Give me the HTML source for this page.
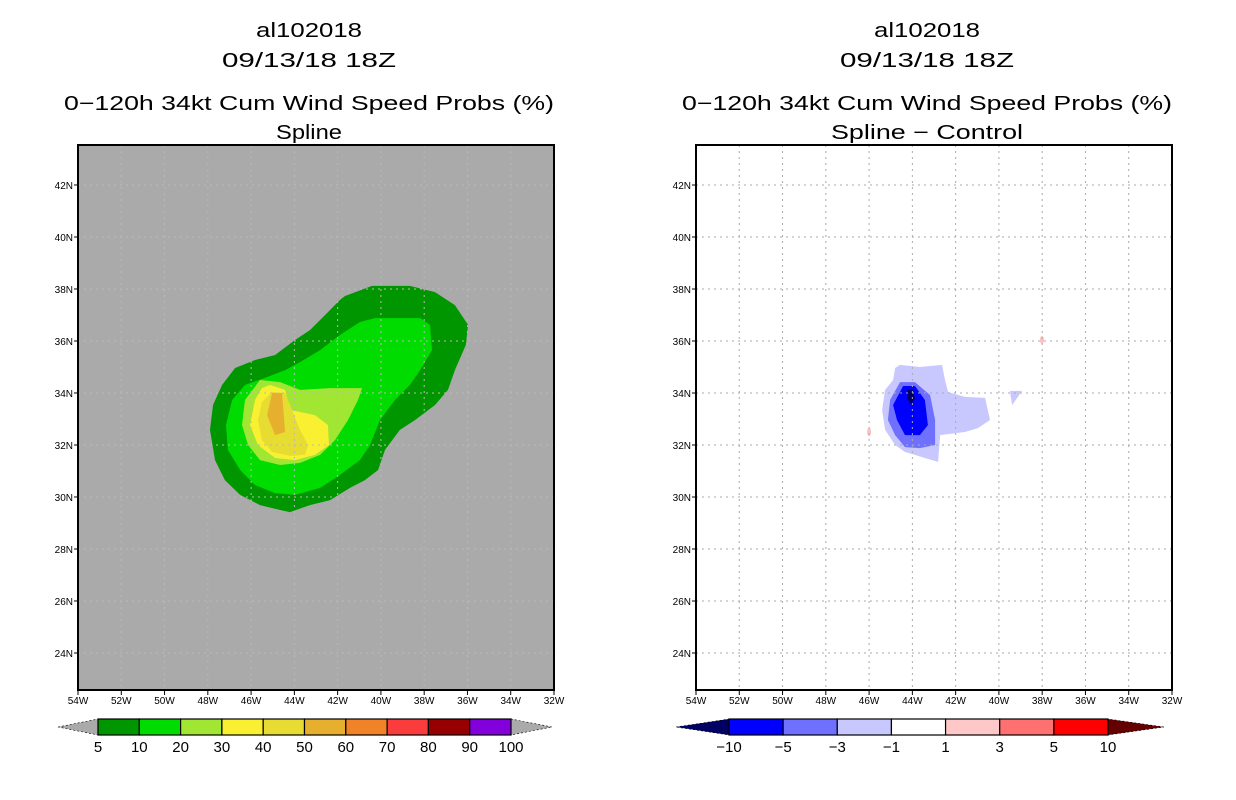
<!DOCTYPE html>
<html><head><meta charset="utf-8"><style>
body{margin:0;background:#fff;width:1236px;height:800px;overflow:hidden}
svg{display:block;font-family:"Liberation Sans",sans-serif}
</style></head><body>
<svg id="s" width="1236" height="800" xmlns="http://www.w3.org/2000/svg"></svg>
<script>
const NS="http://www.w3.org/2000/svg";
const lonTicks=[54,52,50,48,46,44,42,40,38,36,34,32];
const latTicks=[42,40,38,36,34,32,30,28,26,24];
const leftLevels=["5","10","20","30","40","50","60","70","80","90","100"];
const leftColors=["#009600","#00dc00","#a0e632","#faf032","#e6dc32","#e6af2d","#f08228","#fa3c3c","#960000","#8200dc"];
const rightLevels=["−10","−5","−3","−1","1","3","5","10"];
const rightColors=["#0000ff","#7070ff","#c8c8ff","#ffffff","#ffc8c8","#ff7070","#ff0000"];
// contours as [lonW, latN] pairs
const c5=[[41.66,37.73],[40.41,38.12],[38.66,38.12],[37.50,37.88],[36.58,37.38],[35.97,36.62],[36.07,35.85],[36.58,34.88],[36.90,34.12],[37.50,33.54],[38.42,32.96],[39.12,32.58],[39.81,31.81],[40.13,31.04],[40.74,30.65],[41.43,30.35],[42.35,29.88],[43.28,29.69],[44.20,29.42],[44.66,29.50],[45.59,29.69],[46.51,30.08],[47.21,30.65],[47.67,31.42],[47.90,32.58],[47.76,33.54],[47.34,34.31],[46.74,34.96],[45.82,35.27],[44.89,35.46],[43.97,36.04],[43.28,36.42],[42.58,37.00],[41.89,37.58]];
const c10=[[40.27,36.88],[38.19,36.88],[37.73,36.62],[37.64,35.65],[38.19,34.88],[38.66,34.31],[39.35,33.73],[40.04,32.96],[40.50,32.00],[40.97,31.42],[41.89,30.85],[42.81,30.35],[43.97,30.08],[44.89,30.15],[45.82,30.46],[46.51,31.04],[47.07,31.81],[47.16,32.77],[46.88,33.73],[46.28,34.31],[45.36,34.58],[44.43,34.88],[43.74,35.19],[42.81,35.65],[41.89,36.23],[40.97,36.73]];
const c20=[[45.59,34.50],[44.66,34.42],[43.74,34.12],[42.35,34.19],[40.87,34.19],[41.06,33.73],[41.52,32.96],[42.12,32.19],[42.81,31.62],[43.74,31.31],[44.66,31.23],[45.59,31.42],[46.14,32.00],[46.42,32.77],[46.28,33.73]];
const c30=[[45.13,34.31],[44.43,34.12],[44.20,33.35],[43.05,33.15],[42.45,32.77],[42.40,32.00],[43.05,31.62],[43.97,31.42],[44.89,31.50],[45.68,32.00],[46.05,32.77],[45.82,33.73],[45.50,34.19]];
const c40=[[45.03,34.04],[44.43,34.00],[44.11,33.35],[43.74,32.58],[43.37,32.00],[43.51,31.62],[44.20,31.58],[45.03,31.73],[45.50,32.19],[45.68,32.96],[45.50,33.65]];
const c50=[[45.03,34.00],[44.57,34.00],[44.43,32.50],[44.89,32.38],[45.26,33.15]];
const d1=[[44.57,35.08],[43.65,35.00],[42.63,35.08],[42.49,34.50],[42.35,34.04],[41.57,33.85],[40.64,33.81],[40.41,32.96],[40.97,32.65],[41.57,32.50],[42.72,32.38],[42.81,31.35],[43.42,31.50],[43.88,31.62],[44.34,31.73],[44.80,32.00],[45.26,32.58],[45.40,33.35],[45.26,34.12],[44.89,34.50],[44.80,34.96]];
const d1b=[[39.49,34.08],[38.93,34.08],[39.39,33.54]];
const d3=[[44.57,34.42],[43.88,34.42],[43.18,33.92],[42.95,32.96],[42.95,32.00],[43.65,31.88],[44.34,31.92],[44.80,32.38],[45.13,32.96],[45.03,33.73]];
const d5=[[44.43,34.27],[43.88,34.27],[43.42,33.73],[43.28,32.77],[43.65,32.38],[44.34,32.38],[44.71,32.96],[44.89,33.54]];
const d10=[[44.25,34.12],[43.97,34.12],[43.88,33.81],[44.06,33.54],[44.25,33.81]];
const p1=[[46.00,32.50]],p2=[[38.01,36.04]];

function el(tag,attrs,parent){const e=document.createElementNS(NS,tag);for(const k in attrs)e.setAttribute(k,attrs[k]);(parent||svg).appendChild(e);return e;}
const svg=document.getElementById('s');
const PW=476,Y0=145,Y1=690;
function xs(x0){return lon=>x0+(54-lon)/22*PW;}
function ys(lat){return 185+(42-lat)*26;}
function pts(arr,X){return arr.map(p=>X(p[0]).toFixed(1)+","+ys(p[1]).toFixed(1)).join(" ");}

function panel(x0,name,bg,titles,lens){
  const X=xs(x0);
  const g=el('g',{});
  titles.forEach((t,i)=>{const tx=el('text',{x:x0+231,y:[37,67,110,139][i],'text-anchor':'middle','font-size':20,fill:'#000',textLength:lens[i],lengthAdjust:'spacingAndGlyphs'},g);tx.textContent=t;});
  const r=el('rect',{x:x0,y:Y0,width:PW,height:Y1-Y0,fill:bg},g);
  
  return {g,X};
}
function poly(P,arr,fill,nm){const p=el('polygon',{points:pts(arr,P.X),fill:fill},P.g);}
function grid(P,x0,col){
  lonTicks.forEach(l=>{if(l==54||l==32)return;const l1=el('line',{x1:P.X(l),x2:P.X(l),y1:Y0,y2:Y1,stroke:col,'stroke-dasharray':'2,4'},P.g);});
  latTicks.forEach(l=>{const l1=el('line',{x1:x0,x2:x0+PW,y1:ys(l),y2:ys(l),stroke:col,'stroke-dasharray':'2,4'},P.g);});
}
function axes(P,x0){
  const f=el('rect',{x:x0,y:Y0,width:PW,height:Y1-Y0,fill:'none',stroke:'#000','stroke-width':2},P.g);
  
  lonTicks.forEach(l=>{const x=P.X(l);el('line',{x1:x,x2:x,y1:Y1,y2:Y1+5,stroke:'#000'},P.g);
    const t=el('text',{x:x,y:Y1+14,'text-anchor':'middle','font-size':10},P.g);t.textContent=l+'W';});
  latTicks.forEach(l=>{const y=ys(l);el('line',{x1:x0-4,x2:x0,y1:y,y2:y,stroke:'#000'},P.g);
    const t=el('text',{x:x0-5,y:y+4,'text-anchor':'end','font-size':10},P.g);t.textContent=l+'N';});
}
function colorbar(name,bx0,bx1,tip0,tip1,colors,levels,lc,rc){
  const g=el('g',{});
  const y0=719,y1=735,ym=727,w=(bx1-bx0)/colors.length;
  el('polygon',{points:`${tip0},${ym} ${bx0},${y0} ${bx0},${y1}`,fill:lc,stroke:'#000','stroke-width':0.6,'stroke-dasharray':'2,2'},g);
  el('polygon',{points:`${tip1},${ym} ${bx1},${y0} ${bx1},${y1}`,fill:rc,stroke:'#000','stroke-width':0.6,'stroke-dasharray':'2,2'},g);
  colors.forEach((c,i)=>{const r=el('rect',{x:bx0+i*w,y:y0,width:w,height:y1-y0,fill:c,stroke:'#000','stroke-width':1.2},g);});
  levels.forEach((l,i)=>{const t=el('text',{x:bx0+i*w,y:752,'text-anchor':'middle','font-size':15},g);t.textContent=l;});
}
// Left panel
const L=panel(78,'left-panel','#aaaaaa',['al102018','09/13/18 18Z','0−120h 34kt Cum Wind Speed Probs (%)','Spline'],[106,174,490,66]);
[[c5,0,'contour-5'],[c10,1,'contour-10'],[c20,2,'contour-20'],[c30,3,'contour-30'],[c40,4,'contour-40'],[c50,5,'contour-50']].forEach(a=>poly(L,a[0],leftColors[a[1]],a[2]));
grid(L,78,'#b9b9b9');axes(L,78);
colorbar('left-colorbar',98,511,58,552,leftColors,leftLevels,'#aaaaaa','#aaaaaa');
// Right panel
const R=panel(696,'right-panel','#ffffff',['al102018','09/13/18 18Z','0−120h 34kt Cum Wind Speed Probs (%)','Spline − Control'],[106,174,490,192]);
poly(R,d1,rightColors[2],'diff-minus1');poly(R,d1b,rightColors[2],'diff-minus1-small');
poly(R,d3,rightColors[1],'diff-minus3');poly(R,d5,rightColors[0],'diff-minus5');poly(R,d10,'#000064','diff-minus10');
[p1,p2].forEach(p=>{const e=el('ellipse',{cx:R.X(p[0][0]),cy:ys(p[0][1]),rx:2,ry:4,fill:'#ffc0c0'},R.g);});
grid(R,696,'#aaaaaa');axes(R,696);
colorbar('right-colorbar',729,1108,676,1164,rightColors,rightLevels,'#000064','#640000');
</script>
</body></html>
